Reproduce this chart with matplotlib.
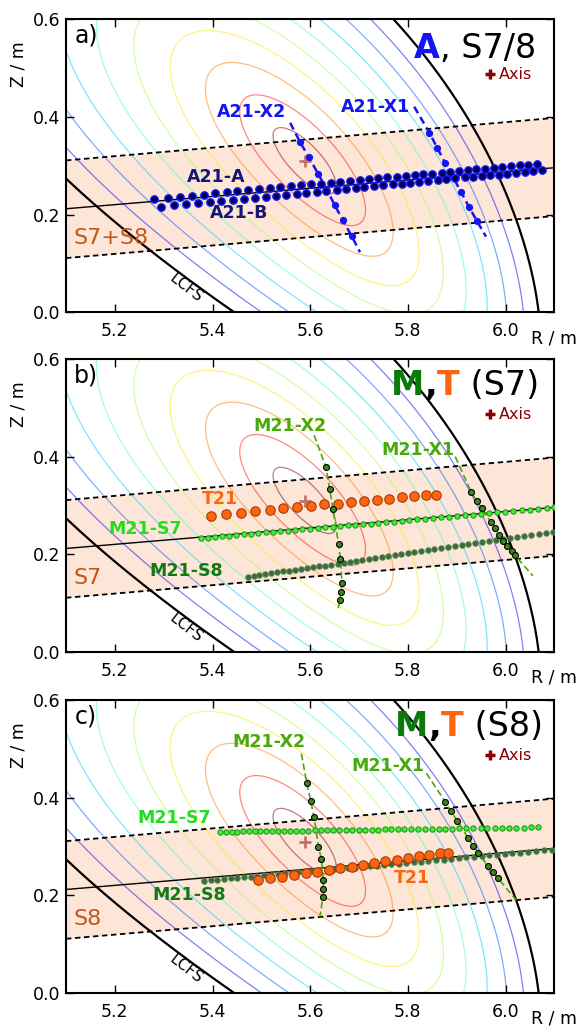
import numpy as np
import matplotlib
matplotlib.use("Agg")
import matplotlib.pyplot as plt
from matplotlib.lines import Line2D
from matplotlib.offsetbox import TextArea, HPacker, AnchoredOffsetbox

# ---------------- values ----------------
axis_R, axis_Z = 5.59, 0.31
rho_levels = [0.1, 0.2, 0.3, 0.4, 0.5, 0.6, 0.7, 0.8, 0.9, 1.0]   # last one = LCFS

band_R = [5.1, 6.1]
band_top = [0.311, 0.398]
band_bot = [0.111, 0.197]
band_mid = [0.212, 0.296]

# panel a) A21
a21A_R = [5.280, 5.308, 5.333, 5.357, 5.382, 5.405, 5.429, 5.451, 5.473, 5.496,
          5.518, 5.539, 5.561, 5.581, 5.602, 5.622, 5.643, 5.662, 5.682, 5.701,
          5.720, 5.739, 5.758, 5.777, 5.796, 5.814, 5.832, 5.850, 5.869, 5.886,
          5.905, 5.923, 5.940, 5.958, 5.976, 5.993, 6.011, 6.029, 6.047, 6.065]
a21A_Z = [0.232, 0.235, 0.237, 0.239, 0.241, 0.244, 0.246, 0.248, 0.250, 0.252,
          0.254, 0.256, 0.258, 0.260, 0.262, 0.263, 0.265, 0.267, 0.269, 0.271,
          0.272, 0.274, 0.276, 0.278, 0.279, 0.281, 0.283, 0.284, 0.286, 0.288,
          0.289, 0.291, 0.293, 0.294, 0.296, 0.297, 0.299, 0.301, 0.302, 0.304]
a21B_R = [5.294, 5.321, 5.346, 5.370, 5.395, 5.418, 5.441, 5.464, 5.486, 5.509,
          5.530, 5.550, 5.572, 5.592, 5.613, 5.633, 5.654, 5.673, 5.693, 5.711,
          5.731, 5.749, 5.769, 5.787, 5.805, 5.823, 5.842, 5.861, 5.879, 5.897,
          5.916, 5.933, 5.951, 5.969, 5.986, 6.004, 6.021, 6.039, 6.056, 6.074]
a21B_Z = [0.216, 0.219, 0.221, 0.223, 0.226, 0.228, 0.230, 0.232, 0.234, 0.237,
          0.239, 0.241, 0.243, 0.245, 0.247, 0.249, 0.251, 0.252, 0.254, 0.256,
          0.258, 0.260, 0.262, 0.263, 0.265, 0.267, 0.269, 0.270, 0.272, 0.274,
          0.276, 0.277, 0.279, 0.281, 0.282, 0.284, 0.286, 0.288, 0.289, 0.291]
a21X2_R = [5.579, 5.597, 5.616, 5.633, 5.650, 5.667, 5.685]
a21X2_Z = [0.349, 0.318, 0.284, 0.253, 0.220, 0.188, 0.156]
a21X2_ends = ([5.559, 5.702], [0.388, 0.123])
a21X1_R = [5.844, 5.860, 5.876, 5.893, 5.909, 5.925, 5.942]
a21X1_Z = [0.368, 0.337, 0.306, 0.276, 0.246, 0.216, 0.186]
a21X1_ends = ([5.813, 5.960], [0.421, 0.155])

# panel b) M21 / T21, S7
t21b_R = [5.396, 5.428, 5.458, 5.487, 5.517, 5.545, 5.573, 5.602, 5.629, 5.656,
          5.684, 5.710, 5.737, 5.762, 5.788, 5.813, 5.837, 5.858]
t21b_Z = [0.278, 0.282, 0.285, 0.289, 0.291, 0.294, 0.296, 0.299, 0.302, 0.304,
          0.307, 0.309, 0.311, 0.314, 0.317, 0.320, 0.322, 0.322]
s7b_R = [5.376, 5.391, 5.405, 5.420, 5.434, 5.449, 5.464, 5.479, 5.494, 5.509,
         5.524, 5.539, 5.554, 5.569, 5.584, 5.599, 5.615, 5.630, 5.646, 5.661,
         5.677, 5.692, 5.708, 5.724, 5.739, 5.755, 5.771, 5.787, 5.803, 5.819,
         5.835, 5.851, 5.868, 5.884, 5.900, 5.917, 5.933, 5.950, 5.966, 5.983,
         5.999, 6.016, 6.033, 6.050, 6.067, 6.084, 6.100]
s7b_Z = [0.233, 0.234, 0.236, 0.237, 0.238, 0.239, 0.241, 0.242, 0.243, 0.245,
         0.246, 0.247, 0.248, 0.250, 0.251, 0.252, 0.254, 0.255, 0.256, 0.258,
         0.259, 0.261, 0.262, 0.263, 0.265, 0.266, 0.267, 0.269, 0.270, 0.272,
         0.273, 0.274, 0.276, 0.277, 0.279, 0.280, 0.281, 0.283, 0.284, 0.286,
         0.287, 0.289, 0.290, 0.291, 0.293, 0.294, 0.296]
s8b_R = [5.472, 5.484, 5.496, 5.508, 5.520, 5.532, 5.544, 5.556, 5.568, 5.581,
         5.593, 5.605, 5.618, 5.630, 5.643, 5.656, 5.669, 5.681, 5.694, 5.707,
         5.720, 5.733, 5.747, 5.760, 5.773, 5.786, 5.800, 5.813, 5.827, 5.841,
         5.854, 5.868, 5.882, 5.896, 5.910, 5.924, 5.938, 5.952, 5.966, 5.981,
         5.995, 6.009, 6.024, 6.038, 6.053, 6.068, 6.083, 6.097]
s8b_Z = [0.154, 0.156, 0.158, 0.159, 0.161, 0.163, 0.165, 0.166, 0.168, 0.170,
         0.172, 0.174, 0.176, 0.177, 0.179, 0.181, 0.183, 0.185, 0.187, 0.189,
         0.191, 0.193, 0.195, 0.197, 0.199, 0.201, 0.203, 0.205, 0.207, 0.209,
         0.211, 0.213, 0.215, 0.217, 0.219, 0.221, 0.223, 0.225, 0.227, 0.229,
         0.231, 0.233, 0.236, 0.238, 0.240, 0.242, 0.244, 0.246]
m21X2b_R = [5.632, 5.640, 5.647, 5.658, 5.662, 5.665, 5.663, 5.661]
m21X2b_Z = [0.379, 0.333, 0.292, 0.221, 0.191, 0.141, 0.122, 0.106]
m21X2b_ends = ([5.608, 5.657], [0.444, 0.088])
m21X1b_R = [5.930, 5.941, 5.951, 5.970, 5.979, 5.986, 5.995, 6.004, 6.013, 6.019]
m21X1b_Z = [0.327, 0.309, 0.295, 0.266, 0.253, 0.239, 0.228, 0.217, 0.207, 0.198]
m21X1b_ends = ([5.897, 6.056], [0.400, 0.156])

# panel c) M21 / T21, S8
t21c_R = [5.493, 5.517, 5.542, 5.567, 5.591, 5.614, 5.638, 5.661, 5.685, 5.708,
          5.731, 5.754, 5.777, 5.800, 5.822, 5.844, 5.865, 5.883]
t21c_Z = [0.231, 0.235, 0.238, 0.241, 0.245, 0.248, 0.252, 0.256, 0.259, 0.263,
          0.266, 0.270, 0.273, 0.276, 0.280, 0.283, 0.286, 0.287]
s7c_R = [5.416, 5.428, 5.439, 5.451, 5.462, 5.474, 5.486, 5.498, 5.510, 5.522,
         5.534, 5.547, 5.559, 5.571, 5.584, 5.596, 5.609, 5.622, 5.634, 5.647,
         5.660, 5.673, 5.686, 5.699, 5.712, 5.726, 5.739, 5.753, 5.766, 5.780,
         5.793, 5.807, 5.821, 5.835, 5.849, 5.863, 5.877, 5.891, 5.905, 5.920,
         5.934, 5.949, 5.963, 5.978, 5.992, 6.007, 6.022, 6.037, 6.052, 6.067]
s7c_Z = [0.330, 0.330, 0.330, 0.330, 0.331, 0.331, 0.331, 0.331, 0.331, 0.331,
         0.332, 0.332, 0.332, 0.332, 0.332, 0.332, 0.333, 0.333, 0.333, 0.333,
         0.333, 0.334, 0.334, 0.334, 0.334, 0.334, 0.334, 0.335, 0.335, 0.335,
         0.335, 0.335, 0.336, 0.336, 0.336, 0.336, 0.336, 0.336, 0.337, 0.337,
         0.337, 0.337, 0.338, 0.338, 0.338, 0.338, 0.338, 0.338, 0.339, 0.339]
s8c_R = [5.383, 5.396, 5.410, 5.423, 5.437, 5.451, 5.464, 5.478, 5.492, 5.506,
         5.520, 5.534, 5.548, 5.562, 5.576, 5.591, 5.605, 5.619, 5.634, 5.648,
         5.663, 5.677, 5.692, 5.707, 5.722, 5.737, 5.751, 5.766, 5.781, 5.797,
         5.812, 5.827, 5.842, 5.858, 5.873, 5.888, 5.904, 5.920, 5.935, 5.951,
         5.967, 5.982, 5.998, 6.014, 6.030, 6.046, 6.062, 6.079, 6.095]
s8c_Z = [0.230, 0.231, 0.232, 0.234, 0.235, 0.236, 0.237, 0.238, 0.240, 0.241,
         0.242, 0.243, 0.245, 0.246, 0.247, 0.248, 0.250, 0.251, 0.252, 0.253,
         0.255, 0.256, 0.257, 0.259, 0.260, 0.261, 0.263, 0.264, 0.265, 0.267,
         0.268, 0.269, 0.271, 0.272, 0.273, 0.275, 0.276, 0.278, 0.279, 0.280,
         0.282, 0.283, 0.284, 0.286, 0.287, 0.289, 0.290, 0.292, 0.293]
m21X2c_R = [5.593, 5.601, 5.608, 5.617, 5.623, 5.627, 5.627, 5.626]
m21X2c_Z = [0.430, 0.394, 0.360, 0.300, 0.274, 0.231, 0.212, 0.196]
m21X2c_ends = ([5.582, 5.620], [0.490, 0.156])
m21X1c_R = [5.877, 5.888, 5.901, 5.923, 5.934, 5.944, 5.964, 5.974, 5.984]
m21X1c_Z = [0.391, 0.372, 0.353, 0.318, 0.302, 0.287, 0.260, 0.247, 0.236]
m21X1c_ends = ([5.838, 6.022], [0.450, 0.190])

# ---------------- styles ----------------
c_orange_txt = '#c2571a'
c_blue = '#1414f5'
c_navy = '#15157a'
c_xgreen = '#4aa80c'
c_s7 = '#22dd22'
c_s8 = '#127a12'
c_t21 = '#ff6410'
c_axis = '#8b0000'

fig = plt.figure(figsize=(5.8, 10.3), dpi=100)
bottoms = [0.6968, 0.3670, 0.0359]
axes = [fig.add_axes([0.1138, b, 0.842, 0.2845]) for b in bottoms]


def flux_surface(rho, n=600):
    th = np.linspace(0, 2 * np.pi, n)
    c, s = np.cos(th), np.sin(th)
    A = rho * (0.89 - 0.10 * rho)
    B = rho * (0.32 + 0.02 * rho)
    p = -0.10 * rho ** 2 + A * c
    left = ((1 - s) / 2) ** 2
    q = -0.01 * rho ** 2 + B * s - 0.07 * rho ** 2 * c ** 2 + rho ** 2 * left * (0.12 * c - 0.01)
    ang = np.radians(-47)
    R = axis_R + p * np.cos(ang) - q * np.sin(ang)
    Z = axis_Z + p * np.sin(ang) + q * np.cos(ang)
    return R, Z


def background(ax, band_label):
    ax.fill_between(band_R, band_bot, band_top, color='#fde6d8', lw=0, zorder=0)
    cols = plt.cm.jet(np.linspace(1.0, 0.1, len(rho_levels) - 1))
    for rho, col in zip(rho_levels[:-1], cols):
        R, Z = flux_surface(rho)
        ax.plot(R, Z, color=col, alpha=0.5, lw=0.9, zorder=1)
    R, Z = flux_surface(rho_levels[-1])
    ax.plot(R, Z, color='k', lw=1.6, zorder=2)
    ax.plot(band_R, band_top, color='k', ls=(0, (3, 2)), lw=1.3, zorder=2)
    ax.plot(band_R, band_bot, color='k', ls=(0, (3, 2)), lw=1.3, zorder=2)
    ax.plot(band_R, band_mid, color='k', lw=1.0, zorder=2)
    ax.plot(axis_R, axis_Z, '+', color=c_axis, alpha=0.5, ms=8, mew=2, zorder=3)
    ax.text(5.345, 0.05, 'LCFS', rotation=-38, ha='center', va='center', fontsize=11)
    ax.text(5.115, 0.152, band_label, color=c_orange_txt, fontsize=16, ha='left', va='center')
    ax.legend(handles=[Line2D([], [], marker='+', ls='none', color=c_axis, ms=7, mew=2.5)],
              labels=['Axis'], loc='center right', bbox_to_anchor=(0.955, 0.81),
              frameon=False, handlelength=0.5, handletextpad=0.3, fontsize=11.5,
              borderpad=0, borderaxespad=0, labelcolor=c_axis)


def title_box(ax, parts, x, y):
    boxes = [TextArea(t, textprops=dict(color=c, fontweight=w, fontsize=24)) for t, c, w in parts]
    pack = HPacker(children=boxes, align='baseline', pad=0, sep=0)
    ab = AnchoredOffsetbox(loc='center right', child=pack, pad=0, frameon=False,
                           bbox_to_anchor=(x, y), bbox_transform=ax.transAxes, borderpad=0)
    ax.add_artist(ab)


def sight_line(ax, ends, R, Z, color, dash, lw):
    ax.plot([ends[0][0]] + R + [ends[0][1]], [ends[1][0]] + Z + [ends[1][1]],
            color=color, ls=(0, dash), lw=lw, zorder=4)


# ---------- a) ----------
ax = axes[0]
background(ax, 'S7+S8')
sight_line(ax, a21X2_ends, a21X2_R, a21X2_Z, c_blue, (3, 1.8), 1.8)
sight_line(ax, a21X1_ends, a21X1_R, a21X1_Z, c_blue, (3, 1.8), 1.8)
ax.plot(a21X2_R, a21X2_Z, 'o', ms=4.2, mfc=c_blue, mec=c_blue, zorder=5)
ax.plot(a21X1_R, a21X1_Z, 'o', ms=4.2, mfc=c_blue, mec=c_blue, zorder=5)
ax.plot(a21A_R, a21A_Z, 'o', ms=5.4, mfc='#000060', mec='#1a1aff', mew=0.9, ls='none', zorder=5)
ax.plot(a21B_R, a21B_Z, 'o', ms=5.4, mfc='#000060', mec='#1a1aff', mew=0.9, ls='none', zorder=5)
lab = dict(fontsize=12.5, fontweight='bold', ha='center', va='center')
ax.text(5.48, 0.41, 'A21-X2', color=c_blue, **lab)
ax.text(5.733, 0.42, 'A21-X1', color=c_blue, **lab)
ax.text(5.408, 0.277, 'A21-A', color=c_navy, **lab)
ax.text(5.455, 0.204, 'A21-B', color=c_navy, **lab)
title_box(ax, [('A', c_blue, 'bold'), (', S7/8', 'k', 'normal')], 0.962, 0.9)

# ---------- b) ----------
ax = axes[1]
background(ax, 'S7')
sight_line(ax, m21X2b_ends, m21X2b_R, m21X2b_Z, c_xgreen, (4, 2), 1.2)
sight_line(ax, m21X1b_ends, m21X1b_R, m21X1b_Z, c_xgreen, (4, 2), 1.2)
ax.plot(s8b_R, s8b_Z, 'o', ms=3.8, mfc='#4d5d4d', mec='#3a8a3a', mew=0.8, ls='none', zorder=5)
ax.plot(s7b_R, s7b_Z, 'o', ms=3.8, mfc='#44ee33', mec='#229922', mew=0.8, ls='none', zorder=5)
ax.plot(t21b_R, t21b_Z, 'o', ms=6.8, mfc='#ff6410', mec='#a83a08', mew=0.8, ls='none', zorder=6)
ax.plot(m21X2b_R, m21X2b_Z, 'o', ms=4.3, mfc='#3a8a1a', mec='k', mew=0.8, ls='none', zorder=7)
ax.plot(m21X1b_R, m21X1b_Z, 'o', ms=4.3, mfc='#3a8a1a', mec='k', mew=0.8, ls='none', zorder=7)
ax.text(5.558, 0.463, 'M21-X2', color=c_xgreen, **lab)
ax.text(5.821, 0.414, 'M21-X1', color=c_xgreen, **lab)
ax.text(5.415, 0.314, 'T21', color=c_t21, **lab)
ax.text(5.262, 0.252, 'M21-S7', color=c_s7, **lab)
ax.text(5.346, 0.165, 'M21-S8', color=c_s8, **lab)
title_box(ax, [('M', '#0a7a0a', 'bold'), (',', 'k', 'bold'), ('T', c_t21, 'bold'),
               (' (S7)', 'k', 'normal')], 0.968, 0.911)

# ---------- c) ----------
ax = axes[2]
background(ax, 'S8')
sight_line(ax, m21X2c_ends, m21X2c_R, m21X2c_Z, c_xgreen, (4, 2), 1.2)
sight_line(ax, m21X1c_ends, m21X1c_R, m21X1c_Z, c_xgreen, (4, 2), 1.2)
ax.plot(s7c_R, s7c_Z, 'o', ms=3.8, mfc='#44ee33', mec='#229922', mew=0.8, ls='none', zorder=5)
ax.plot(s8c_R, s8c_Z, 'o', ms=3.8, mfc='#4d5d4d', mec='#3a8a3a', mew=0.8, ls='none', zorder=5)
ax.plot(t21c_R, t21c_Z, 'o', ms=6.8, mfc='#ff6410', mec='#a83a08', mew=0.8, ls='none', zorder=6)
ax.plot(m21X2c_R, m21X2c_Z, 'o', ms=4.3, mfc='#3a8a1a', mec='k', mew=0.8, ls='none', zorder=7)
ax.plot(m21X1c_R, m21X1c_Z, 'o', ms=4.3, mfc='#3a8a1a', mec='k', mew=0.8, ls='none', zorder=7)
ax.text(5.515, 0.515, 'M21-X2', color=c_xgreen, **lab)
ax.text(5.76, 0.465, 'M21-X1', color=c_xgreen, **lab)
ax.text(5.322, 0.358, 'M21-S7', color=c_s7, **lab)
ax.text(5.353, 0.201, 'M21-S8', color=c_s8, **lab)
ax.text(5.808, 0.235, 'T21', color=c_t21, **lab)
title_box(ax, [('M', '#0a7a0a', 'bold'), (',', 'k', 'bold'), ('T', c_t21, 'bold'),
               (' (S8)', 'k', 'normal')], 0.976, 0.909)

for ax, tag in zip(axes, ['a)', 'b)', 'c)']):
    ax.set_xlim(5.1, 6.1)
    ax.set_ylim(0.0, 0.6)
    ax.set_xticks([5.2, 5.4, 5.6, 5.8, 6.0])
    ax.set_yticks([0.0, 0.2, 0.4, 0.6])
    ax.tick_params(direction='in', top=True, right=True, length=6, width=1,
                   labelsize=12.5)
    ax.tick_params(axis='x', pad=7)
    ax.tick_params(axis='y', pad=4)
    for sp in ax.spines.values():
        sp.set_linewidth(1.5)
    ax.text(0.017, 0.945, tag, transform=ax.transAxes, fontsize=17, va='center', ha='left')
    ax.text(0.952, -0.088, 'R / m', transform=ax.transAxes, fontsize=12.5, va='center', ha='left')
    ax.text(-0.098, 0.847, 'Z / m', transform=ax.transAxes, fontsize=12.5, va='center',
            ha='center', rotation=90)

fig.savefig('out.png', dpi=100)
